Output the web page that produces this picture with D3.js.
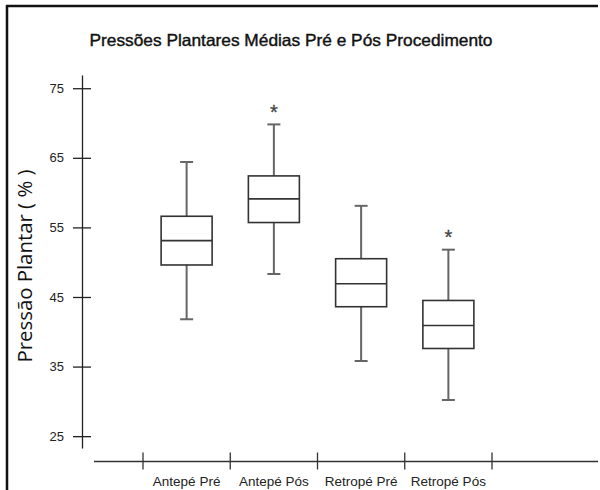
<!DOCTYPE html>
<html>
<head>
<meta charset="utf-8">
<script src="https://cdn.jsdelivr.net/npm/d3@7"></script>
<style>
  html, body { margin: 0; padding: 0; background: #fff; }
  svg { display: block; }
</style>
</head>
<body>
<svg id="chart" width="600" height="490"></svg>
<script>
// Grupos e estatísticas de cada boxplot
const categories = ["Antepé Pré", "Antepé Pós", "Retropé Pré", "Retropé Pós"];
const whiskerLow  = [41.8, 48.3, 35.8, 30.2];
const q1          = [49.6, 55.7, 43.6, 37.6];
const median      = [53.1, 59.1, 46.9, 40.9];
const q3          = [56.6, 62.4, 50.5, 44.5];
const whiskerHigh = [64.4, 69.8, 58.1, 51.8];
const outliers    = [null, 72.0, null, 54.0];
const yTicks      = [25, 35, 45, 55, 65, 75];

const title = "Pressões Plantares Médias Pré e Pós Procedimento";
const yTitle = "Pressão Plantar ( % )";

const svg = d3.select("#chart");

// Moldura (esquerda e topo)
svg.append("line").attr("x1", 7).attr("x2", 7).attr("y1", 5).attr("y2", 490)
  .attr("stroke", "#111").attr("stroke-width", 2.5);
svg.append("line").attr("x1", 6).attr("x2", 598).attr("y1", 6).attr("y2", 6)
  .attr("stroke", "#111").attr("stroke-width", 2.5);

const y = d3.scaleLinear().domain([23.3, 76.9]).range([448, 75]);
const x = d3.scaleBand().domain(categories).range([143, 492]).paddingInner(0).paddingOuter(0);

const axisX = 82;
const baseY = 461.5;

// Eixo Y
const yAxis = svg.append("g")
  .attr("transform", `translate(${axisX},0)`)
  .call(d3.axisLeft(y).tickValues(yTicks).tickSizeInner(9).tickSizeOuter(0).tickPadding(9));
yAxis.select(".domain").attr("stroke", "#222").attr("stroke-width", 1.3);
yAxis.selectAll(".tick line").attr("x1", 9).attr("x2", -9).attr("stroke", "#222").attr("stroke-width", 1.3);
yAxis.selectAll(".tick text")
  .attr("font-family", "'Liberation Sans Narrow', 'Liberation Sans', Arial, sans-serif")
  .attr("font-size", 13).attr("fill", "#222");

// Eixo X
svg.append("line").attr("x1", 94).attr("x2", 598).attr("y1", baseY).attr("y2", baseY)
  .attr("stroke", "#333").attr("stroke-width", 1.3);
const bounds = categories.map(c => x(c)).concat([x(categories[categories.length - 1]) + x.bandwidth()]);
svg.append("g").selectAll("line").data(bounds).join("line")
  .attr("x1", d => d).attr("x2", d => d)
  .attr("y1", baseY - 9).attr("y2", baseY + 8)
  .attr("stroke", "#333").attr("stroke-width", 1.3);
svg.append("g").selectAll("text").data(categories).join("text")
  .attr("x", d => x(d) + x.bandwidth() / 2)
  .attr("y", 486)
  .attr("text-anchor", "middle")
  .attr("font-family", "'Liberation Sans Narrow', 'Liberation Sans', Arial, sans-serif")
  .attr("font-size", 13.5).attr("fill", "#222")
  .text(d => d);

// Boxplots
const boxW = 51, capW = 13;
const data = categories.map((c, i) => ({
  c, lo: whiskerLow[i], q1: q1[i], med: median[i], q3: q3[i], hi: whiskerHigh[i], out: outliers[i]
}));
const g = svg.append("g").selectAll("g").data(data).join("g")
  .attr("transform", d => `translate(${x(d.c) + x.bandwidth() / 2},0)`);

const wColor = "#666";
g.append("line").attr("x1", 0).attr("x2", 0).attr("y1", d => y(d.q3)).attr("y2", d => y(d.hi))
  .attr("stroke", wColor).attr("stroke-width", 2);
g.append("line").attr("x1", 0).attr("x2", 0).attr("y1", d => y(d.q1)).attr("y2", d => y(d.lo))
  .attr("stroke", wColor).attr("stroke-width", 2);
g.append("line").attr("x1", -capW / 2).attr("x2", capW / 2).attr("y1", d => y(d.hi)).attr("y2", d => y(d.hi))
  .attr("stroke", wColor).attr("stroke-width", 2);
g.append("line").attr("x1", -capW / 2).attr("x2", capW / 2).attr("y1", d => y(d.lo)).attr("y2", d => y(d.lo))
  .attr("stroke", wColor).attr("stroke-width", 2);
g.append("rect")
  .attr("x", -boxW / 2).attr("width", boxW)
  .attr("y", d => y(d.q3)).attr("height", d => y(d.q1) - y(d.q3))
  .attr("fill", "#fff").attr("stroke", "#333").attr("stroke-width", 1.6);
g.append("line").attr("x1", -boxW / 2).attr("x2", boxW / 2)
  .attr("y1", d => y(d.med)).attr("y2", d => y(d.med))
  .attr("stroke", "#333").attr("stroke-width", 1.6);
g.filter(d => d.out != null).append("text")
  .attr("x", 0).attr("y", d => y(d.out) + 10)
  .attr("text-anchor", "middle")
  .attr("font-family", "'Liberation Sans', Arial, sans-serif")
  .attr("font-size", 20).attr("fill", "#444")
  .attr("stroke", "#444").attr("stroke-width", 0.3)
  .text("*");

// Títulos
svg.append("text")
  .attr("x", 291).attr("y", 46)
  .attr("text-anchor", "middle")
  .attr("font-family", "'Liberation Sans', Arial, sans-serif")
  .attr("font-size", 16.5).attr("fill", "#111")
  .attr("stroke", "#111").attr("stroke-width", 0.4)
  .attr("textLength", 403).attr("lengthAdjust", "spacingAndGlyphs")
  .text(title);
svg.append("text")
  .attr("transform", "translate(32,266) rotate(-90)")
  .attr("text-anchor", "middle")
  .attr("font-family", "'Open Sans', sans-serif")
  .attr("font-size", 19.5).attr("fill", "#111")
  .attr("textLength", 193).attr("lengthAdjust", "spacingAndGlyphs")
  .text(yTitle);
</script>
</body>
</html>
